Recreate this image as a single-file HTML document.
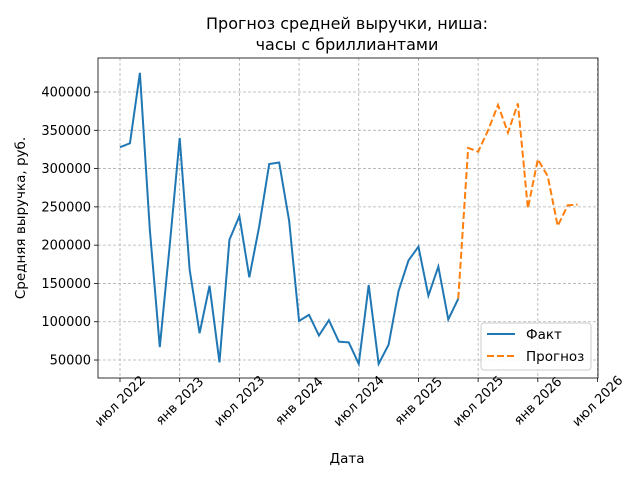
<!DOCTYPE html>
<html><head><meta charset="utf-8"><style>
body{margin:0;background:#fff;font-family:"Liberation Sans","DejaVu Sans",sans-serif;}
svg text{font-family:"DejaVu Sans","Liberation Sans",sans-serif;}
</style></head><body>
<svg id="chart" width="640" height="480" xmlns="http://www.w3.org/2000/svg"></svg>
<script>
const factValues=[328000,333000,425000,220000,67000,200000,340000,168000,85000,147000,47000,207000,238000,158000,225000,306000,308000,232000,101000,109000,82000,102000,74000,73000,45000,148000,45000,70000,140000,180000,198000,134000,172000,103000,130000];
const forecastStart=34;
const forecastValues=[130000,327000,322000,350000,383000,347000,385000,248000,312000,290000,225000,252000,253000];
const yTicks=[50000,100000,150000,200000,250000,300000,350000,400000];
const xTickLabels=["июл 2022","янв 2023","июл 2023","янв 2024","июл 2024","янв 2025","июл 2025","янв 2026","июл 2026"];
const xTickMonths=[0,6,12,18,24,30,36,42,48];

const L=98,R=598,T=58,B=378;
const NS="http://www.w3.org/2000/svg";
const svg=document.getElementById('chart');
function x(i){return 120+i*9.948;}
function y(v){return 92+(400000-v)/50000*38.29;}
function el(t,a,p){const e=document.createElementNS(NS,t);for(const k in a)e.setAttribute(k,a[k]);(p||svg).appendChild(e);return e;}

yTicks.forEach(v=>{
 const g=el('line',{x1:L,x2:R,y1:y(v),y2:y(v),stroke:'#b0b0b0','stroke-width':0.8,'stroke-dasharray':'3,2'});
 
 
 el('line',{x1:L-4,x2:L,y1:y(v),y2:y(v),stroke:'#000','stroke-width':0.8});
 const t=el('text',{x:L-7,y:y(v)+4.5,'text-anchor':'end','font-size':13});
 t.textContent=v;
 
 
});
xTickMonths.forEach((m,i)=>{
 const g=el('line',{x1:x(m),x2:x(m),y1:T,y2:B,stroke:'#b0b0b0','stroke-width':0.8,'stroke-dasharray':'3,2'});
 
 
 el('line',{x1:x(m),x2:x(m),y1:B,y2:B+4,stroke:'#000','stroke-width':0.8});
 const t=el('text',{x:0,y:0,'text-anchor':'middle','font-size':13,transform:`translate(${x(m)+3},${B+26}) rotate(-45)`});
 t.textContent=xTickLabels[i];
 
 
});
const fc=el('polyline',{points:forecastValues.map((v,i)=>x(forecastStart+i)+','+y(v)).join(' '),fill:'none',stroke:'#ff7f0e','stroke-width':2,'stroke-dasharray':'7,3'});


const fl=el('polyline',{points:factValues.map((v,i)=>x(i)+','+y(v)).join(' '),fill:'none',stroke:'#1f77b4','stroke-width':2});


const fr=el('rect',{x:L,y:T,width:R-L,height:B-T,fill:'none',stroke:'#000','stroke-width':0.8});


</script>
<svg style="position:absolute;left:0;top:0" width="640" height="480" xmlns="http://www.w3.org/2000/svg">
<text x="347" y="29" text-anchor="middle" font-size="16">Прогноз средней выручки, ниша:</text>
<text x="347" y="50" text-anchor="middle" font-size="16">часы с бриллиантами</text>
<text x="347" y="463" text-anchor="middle" font-size="13.5">Дата</text>
<text transform="translate(25,218) rotate(-90)" text-anchor="middle" font-size="13.5">Средняя выручка, руб.</text>
<g>
<rect x="481" y="323" width="110" height="47" rx="3" fill="#fff" fill-opacity="0.85" stroke="#ccc"/>
<line x1="487" x2="515" y1="334" y2="334" stroke="#1f77b4" stroke-width="2"/>
<text x="526" y="339" font-size="13.5">Факт</text>
<line x1="487" x2="515" y1="356" y2="356" stroke="#ff7f0e" stroke-width="2" stroke-dasharray="7,3"/>
<text x="526" y="361" font-size="13.5">Прогноз</text>
</g>
</svg>
</body></html>
